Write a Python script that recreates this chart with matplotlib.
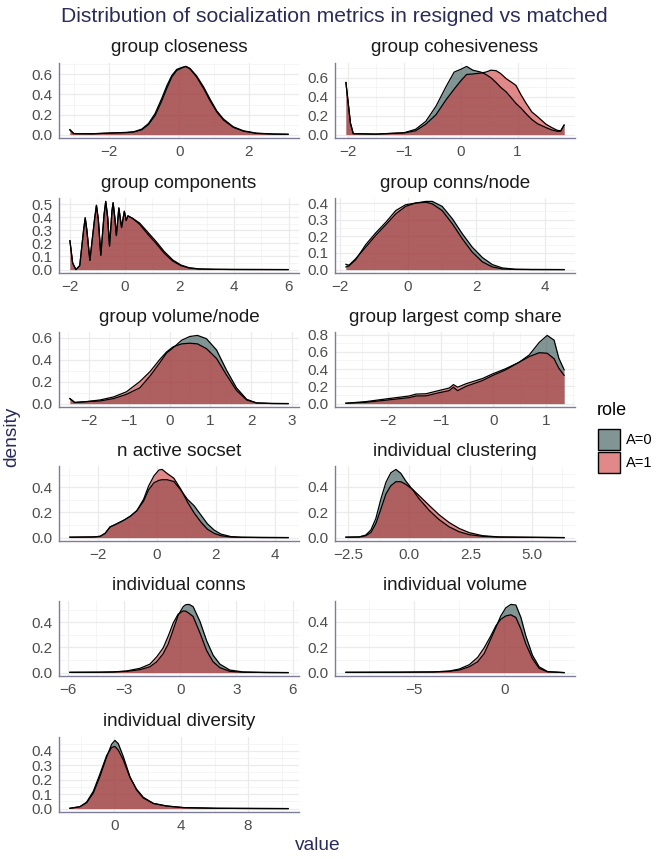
import matplotlib
matplotlib.use("Agg")
import matplotlib.pyplot as plt
from matplotlib.patches import Rectangle

plt.rcParams["font.family"] = ["Liberation Sans", "DejaVu Sans"]

# values (x grid + density for role A=0 / A=1)
closeness_x = [-3.13, -3.02, -2.5, -1.97, -1.5, -1.3, -1.07, -0.88, -0.69, -0.5, -0.35, -0.21, -0.07,
               0.08, 0.19, 0.31, 0.5, 0.7, 0.89, 1.08, 1.27, 1.55, 1.84, 2.22, 2.7, 3.12]
closeness_a0 = [0.05, 0.01, 0.008, 0.016, 0.022, 0.028, 0.055, 0.11, 0.21, 0.36, 0.49, 0.59, 0.65,
                0.67, 0.68, 0.655, 0.575, 0.46, 0.335, 0.225, 0.145, 0.072, 0.034, 0.012, 0.005, 0.003]
closeness_a1 = [0.045, 0.01, 0.008, 0.015, 0.02, 0.026, 0.048, 0.1, 0.19, 0.335, 0.465, 0.575, 0.64,
                0.665, 0.68, 0.66, 0.585, 0.475, 0.35, 0.235, 0.155, 0.078, 0.038, 0.014, 0.006, 0.003]

cohesive_x = [-2.03, -1.95, -1.9, -1.5, -1.0, -0.8, -0.62, -0.44, -0.26, -0.12, 0.0, 0.1, 0.21, 0.35,
              0.44, 0.53, 0.62, 0.7, 0.8, 0.9, 0.97, 1.06, 1.15, 1.25, 1.35, 1.5, 1.6, 1.7, 1.76, 1.82]
cohesive_a0 = [0.55, 0.12, 0.01, 0.005, 0.02, 0.056, 0.14, 0.30, 0.51, 0.66, 0.69, 0.72, 0.68, 0.66,
               0.635, 0.6, 0.55, 0.5, 0.45, 0.38, 0.33, 0.28, 0.22, 0.16, 0.115, 0.074, 0.05, 0.035, 0.035, 0.1]
cohesive_a1 = [0.55, 0.12, 0.01, 0.005, 0.018, 0.04, 0.11, 0.21, 0.37, 0.48, 0.57, 0.635, 0.64, 0.65,
               0.66, 0.68, 0.675, 0.645, 0.59, 0.55, 0.52, 0.42, 0.33, 0.24, 0.19, 0.11, 0.075, 0.045, 0.04, 0.1]

components_x = [-2.0, -1.9, -1.78, -1.64, -1.5, -1.44, -1.38, -1.27, -1.1, -1.03, -0.96, -0.87, -0.75,
                -0.69, -0.62, -0.55, -0.46, -0.42, -0.36, -0.3, -0.21, -0.11, -0.01, 0.06, 0.12, 0.3,
                0.55, 0.85, 1.15, 1.45, 1.76, 2.06, 2.36, 2.73, 3.3, 3.94, 5.0, 5.98]
components_a0 = [0.22, 0.05, 0.0, 0.03, 0.3, 0.395, 0.3, 0.07, 0.38, 0.49, 0.38, 0.11, 0.42,
                 0.52, 0.4, 0.18, 0.45, 0.51, 0.4, 0.26, 0.47, 0.32, 0.445, 0.375, 0.41, 0.39,
                 0.345, 0.27, 0.2, 0.125, 0.065, 0.03, 0.012, 0.004, 0.002, 0.001, 0.0005, 0.0]
components_a1 = [0.22, 0.05, 0.0, 0.03, 0.3, 0.395, 0.3, 0.07, 0.38, 0.49, 0.38, 0.11, 0.42,
                 0.52, 0.4, 0.18, 0.45, 0.51, 0.4, 0.26, 0.47, 0.32, 0.445, 0.375, 0.41, 0.39,
                 0.355, 0.285, 0.215, 0.138, 0.074, 0.035, 0.014, 0.005, 0.002, 0.001, 0.0005, 0.0]

connsnode_x = [-1.82, -1.73, -1.53, -1.24, -0.95, -0.65, -0.36, -0.07, 0.22, 0.52, 0.71, 1.0, 1.3,
               1.59, 1.88, 2.18, 2.47, 2.76, 3.15, 3.6, 4.57]
connsnode_a0 = [0.032, 0.026, 0.066, 0.135, 0.205, 0.27, 0.335, 0.38, 0.40, 0.41, 0.41, 0.38, 0.305,
                0.215, 0.135, 0.072, 0.03, 0.01, 0.002, 0.001, 0.0]
connsnode_a1 = [0.016, 0.022, 0.06, 0.15, 0.22, 0.285, 0.355, 0.39, 0.40, 0.405, 0.395, 0.355, 0.275,
                0.185, 0.105, 0.046, 0.016, 0.004, 0.001, 0.0, 0.0]

volnode_x = [-2.46, -2.34, -2.05, -1.72, -1.39, -1.07, -0.74, -0.49, -0.25, -0.08, 0.08, 0.29, 0.49,
             0.68, 0.9, 1.15, 1.39, 1.64, 1.89, 2.13, 2.5, 2.91]
volnode_a0 = [0.045, 0.01, 0.018, 0.024, 0.045, 0.084, 0.143, 0.25, 0.37, 0.46, 0.507, 0.576, 0.61,
              0.62, 0.59, 0.487, 0.307, 0.143, 0.039, 0.006, 0.001, 0.0]
volnode_a1 = [0.045, 0.01, 0.018, 0.033, 0.06, 0.107, 0.2, 0.29, 0.4, 0.47, 0.516, 0.543, 0.549,
              0.543, 0.5, 0.41, 0.263, 0.12, 0.033, 0.006, 0.001, 0.0]

largest_x = [-2.8, -2.42, -2.0, -1.6, -1.47, -1.28, -1.03, -0.84, -0.76, -0.68, -0.52, -0.21, -0.02,
             0.23, 0.49, 0.68, 0.87, 1.02, 1.15, 1.24, 1.34]
largest_a0 = [0.004, 0.015, 0.042, 0.069, 0.088, 0.09, 0.126, 0.15, 0.19, 0.15, 0.2, 0.267, 0.324,
              0.39, 0.48, 0.564, 0.71, 0.79, 0.735, 0.526, 0.392]
largest_a1 = [0.004, 0.023, 0.057, 0.088, 0.11, 0.114, 0.152, 0.18, 0.22, 0.19, 0.23, 0.29, 0.343,
              0.404, 0.48, 0.545, 0.59, 0.583, 0.52, 0.41, 0.328]

socset_x = [-2.97, -2.17, -1.94, -1.77, -1.6, -1.43, -1.14, -0.91, -0.69, -0.46, -0.29, -0.11, 0.06,
            0.17, 0.34, 0.57, 0.8, 1.03, 1.26, 1.49, 1.71, 1.94, 2.17, 2.51, 2.86, 3.5, 4.46]
socset_a0 = [0.003, 0.005, 0.01, 0.034, 0.085, 0.103, 0.137, 0.17, 0.214, 0.29, 0.38, 0.435, 0.455,
             0.46, 0.46, 0.446, 0.38, 0.305, 0.253, 0.18, 0.11, 0.06, 0.028, 0.008, 0.003, 0.001, 0.0]
socset_a1 = [0.003, 0.005, 0.01, 0.034, 0.085, 0.103, 0.137, 0.17, 0.214, 0.305, 0.41, 0.49, 0.537,
             0.542, 0.51, 0.472, 0.387, 0.284, 0.196, 0.124, 0.067, 0.034, 0.015, 0.005, 0.002, 0.001, 0.0]

clustering_x = [-2.58, -2.04, -1.77, -1.56, -1.36, -1.15, -0.95, -0.75, -0.54, -0.34, -0.14, 0.14,
                0.41, 0.82, 1.22, 1.63, 2.04, 2.45, 2.99, 3.67, 5.03, 6.32]
clustering_a0 = [0.003, 0.005, 0.02, 0.06, 0.15, 0.305, 0.434, 0.51, 0.537, 0.506, 0.446, 0.377,
                 0.305, 0.214, 0.142, 0.085, 0.046, 0.023, 0.01, 0.004, 0.002, 0.0]
clustering_a1 = [0.003, 0.005, 0.015, 0.04, 0.11, 0.227, 0.343, 0.408, 0.44, 0.44, 0.42, 0.38,
                 0.33, 0.253, 0.18, 0.119, 0.072, 0.039, 0.015, 0.005, 0.002, 0.0]

iconns_x = [-5.89, -4.29, -3.58, -2.86, -2.15, -1.62, -1.26, -0.91, -0.64, -0.37, -0.11, 0.16, 0.3,
            0.48, 0.69, 1.05, 1.41, 1.76, 2.12, 2.65, 3.36, 4.5, 5.76]
iconns_a0 = [0.002, 0.003, 0.005, 0.01, 0.023, 0.046, 0.085, 0.15, 0.227, 0.343, 0.455, 0.524, 0.54,
             0.542, 0.524, 0.408, 0.253, 0.137, 0.067, 0.02, 0.005, 0.001, 0.0]
iconns_a1 = [0.002, 0.003, 0.005, 0.013, 0.034, 0.067, 0.124, 0.196, 0.29, 0.395, 0.465, 0.49, 0.488,
             0.47, 0.446, 0.317, 0.175, 0.085, 0.039, 0.01, 0.003, 0.001, 0.0]

ivolume_x = [-8.8, -5.83, -3.98, -3.06, -2.5, -1.94, -1.48, -1.11, -0.74, -0.46, -0.19, 0.09, 0.37,
             0.65, 0.93, 1.2, 1.57, 1.94, 2.41, 3.33]
ivolume_a0 = [0.002, 0.003, 0.005, 0.01, 0.02, 0.046, 0.085, 0.15, 0.266, 0.356, 0.446, 0.51, 0.537,
              0.532, 0.434, 0.29, 0.137, 0.046, 0.008, 0.0]
ivolume_a1 = [0.002, 0.003, 0.005, 0.012, 0.028, 0.062, 0.119, 0.196, 0.29, 0.369, 0.42, 0.446, 0.455,
              0.434, 0.343, 0.227, 0.11, 0.034, 0.006, 0.0]

diversity_x = [-2.65, -2.05, -1.65, -1.25, -0.86, -0.46, -0.16, 0.04, 0.24, 0.54, 0.94, 1.33, 1.73,
               2.33, 3.12, 4.12, 6.1, 8.0, 10.39]
diversity_a0 = [0.002, 0.013, 0.04, 0.108, 0.22, 0.355, 0.445, 0.472, 0.45, 0.36, 0.22, 0.13, 0.074,
                0.036, 0.018, 0.007, 0.002, 0.001, 0.0]
diversity_a1 = [0.002, 0.013, 0.045, 0.12, 0.238, 0.366, 0.423, 0.43, 0.405, 0.337, 0.216, 0.135,
                0.079, 0.036, 0.018, 0.007, 0.002, 0.001, 0.0]

titles = ["group closeness", "group cohesiveness", "group components", "group conns/node",
          "group volume/node", "group largest comp share", "n active socset", "individual clustering",
          "individual conns", "individual volume", "individual diversity"]
xticks = [[-2, 0, 2], [-2, -1, 0, 1], [-2, 0, 2, 4, 6], [-2, 0, 2, 4], [-2, -1, 0, 1, 2, 3],
          [-2, -1, 0, 1], [-2, 0, 2, 4], [-2.5, 0.0, 2.5, 5.0], [-6, -3, 0, 3, 6], [-5, 0], [0, 4, 8]]
yticks = [[0, 0.2, 0.4, 0.6], [0, 0.2, 0.4, 0.6], [0, 0.1, 0.2, 0.3, 0.4, 0.5], [0, 0.1, 0.2, 0.3, 0.4],
          [0, 0.2, 0.4, 0.6], [0, 0.2, 0.4, 0.6, 0.8], [0, 0.2, 0.4], [0, 0.2, 0.4], [0, 0.2, 0.4],
          [0, 0.2, 0.4], [0, 0.1, 0.2, 0.3, 0.4]]
roles = ["A=0", "A=1"]

curves = [(closeness_x, closeness_a0, closeness_a1), (cohesive_x, cohesive_a0, cohesive_a1),
          (components_x, components_a0, components_a1), (connsnode_x, connsnode_a0, connsnode_a1),
          (volnode_x, volnode_a0, volnode_a1), (largest_x, largest_a0, largest_a1),
          (socset_x, socset_a0, socset_a1), (clustering_x, clustering_a0, clustering_a1),
          (iconns_x, iconns_a0, iconns_a1), (ivolume_x, ivolume_a0, ivolume_a1),
          (diversity_x, diversity_a0, diversity_a1)]

fill_cols = ["#2F4F4F", "#CD3B3B"]
alpha = 0.6
navy = "#2B2B5A"
W, H = 657, 859

fig = plt.figure(figsize=(W / 100, H / 100), dpi=100)


def minus(s):
    return s.replace("-", "\u2212")


def minor_of(ticks, lo, hi):
    step = ticks[1] - ticks[0]
    m = [t - step / 2 for t in ticks] + [ticks[-1] + step / 2]
    return [v for v in m if lo <= v <= hi]


lefts = [59, 335]
tops = [63, 198, 332, 466, 601, 737]
pw, ph = 240, 75

for i, (x, a0, a1) in enumerate(curves):
    r, c = divmod(i, 2)
    ax = fig.add_axes([lefts[c] / W, 1 - (tops[r] + ph) / H, pw / W, ph / H])
    for y, col in zip([a0, a1], fill_cols):
        ax.fill_between(x, y, 0, color=col, alpha=alpha, linewidth=0)
        ax.plot(x, y, color="black", lw=0.9)
    span = x[-1] - x[0]
    ax.set_xlim(x[0] - 0.05 * span, x[-1] + 0.05 * span)
    ymax = max(max(a0), max(a1))
    ax.set_ylim(-0.05 * ymax, 1.05 * ymax)
    lo, hi = ax.get_xlim()
    ax.set_xticks(xticks[i])
    if i == 7:
        ax.set_xticklabels([minus(f"{v:.1f}") for v in xticks[i]])
    else:
        ax.set_xticklabels([minus(f"{v:g}") for v in xticks[i]])
    ax.set_xticks(minor_of(xticks[i], lo, hi), minor=True)
    ax.set_yticks(yticks[i])
    ax.set_yticklabels([f"{v:.1f}" for v in yticks[i]])
    ylo, yhi = ax.get_ylim()
    ax.set_yticks(minor_of(yticks[i], ylo, yhi), minor=True)
    ax.grid(True, which="major", color="#EBEBEB", lw=0.9)
    ax.grid(True, which="minor", color="#F2F2F2", lw=0.5)
    ax.set_axisbelow(True)
    ax.tick_params(which="both", length=0, labelsize=11, labelcolor="#4D4D4D", pad=5)
    for s in ["top", "right"]:
        ax.spines[s].set_visible(False)
    for s in ["left", "bottom"]:
        ax.spines[s].set_color("#7D7D9A")
        ax.spines[s].set_linewidth(1.0)
    ax.text(0.5, 1 + 15 / ph, titles[i], transform=ax.transAxes, ha="center", va="center",
            fontsize=13.6, color="#1A1A1A")

fig.text(334.5 / W, 1 - 16 / H, "Distribution of socialization metrics in resigned vs matched",
         ha="center", va="center", fontsize=15.2, color=navy)
fig.text(12 / W, 1 - 437 / H, "density", rotation=90, ha="center", va="center", fontsize=13.8, color=navy)
fig.text(318 / W, 1 - 845 / H, "value", ha="center", va="center", fontsize=13.8, color=navy)

# legend
fig.text(597 / W, 1 - 410 / H, "role", ha="left", va="center", fontsize=13, color="black")
for k, (lab, col) in enumerate(zip(roles, fill_cols)):
    y0 = 429 + 23 * k
    fig.add_artist(Rectangle((598 / W, 1 - (y0 + 21) / H), 22 / W, 21 / H, transform=fig.transFigure,
                             facecolor=col, alpha=alpha, edgecolor="none"))
    fig.add_artist(Rectangle((598 / W, 1 - (y0 + 21) / H), 22 / W, 21 / H, transform=fig.transFigure,
                             facecolor="none", edgecolor="black", lw=1.0))
    fig.text(626 / W, 1 - (y0 + 11) / H, lab, ha="left", va="center", fontsize=10.5, color="black")

fig.savefig("out.png", dpi=100)
